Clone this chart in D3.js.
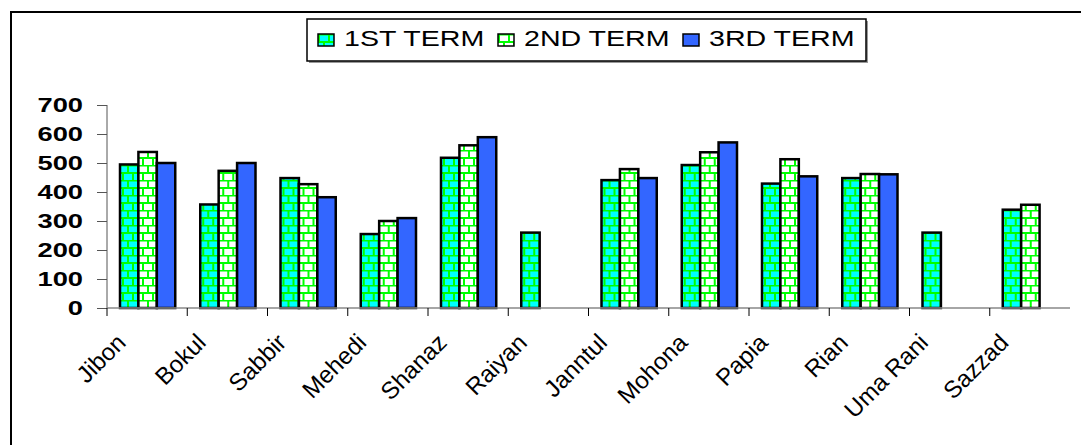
<!DOCTYPE html>
<html>
<head>
<meta charset="utf-8">
<script src="https://cdn.jsdelivr.net/npm/d3@7"></script>
<style>
  body { margin: 0; background: #fff; }
  svg { display: block; font-family: "Liberation Sans", Arial, sans-serif; }
</style>
</head>
<body>
<svg width="1081" height="445"></svg>
<script>
// marks per student (null = no bar)
var students = ["Jibon", "Bokul", "Sabbir", "Mehedi", "Shanaz", "Raiyan",
                "Janntul", "Mohona", "Papia", "Rian", "Uma Rani", "Sazzad"];
var term1 = [495, 357, 448, 255, 518, 260, 441, 493, 429, 448, 260, 339];
var term2 = [538, 473, 427, 300, 561, null, 479, 537, 513, 462, null, 356];
var term3 = [500, 500, 382, 310, 589, null, 448, 571, 454, 461, null, null];
var seriesNames = ["1ST TERM", "2ND TERM", "3RD TERM"];
var yTicks = [0, 100, 200, 300, 400, 500, 600, 700];

var svg = d3.select("svg"),
    margin = {top: 105, left: 107, right: 11, bottom: 137},
    width = +svg.attr("width") - margin.left - margin.right,
    height = +svg.attr("height") - margin.top - margin.bottom,
    stretch = 1.3; // text in the picture is drawn wide

// outer chart frame (only top/left edges show, rest is cropped)
svg.append("rect")
    .attr("x", 11).attr("y", 12)
    .attr("width", 1100).attr("height", 460)
    .attr("fill", "none")
    .attr("stroke", "#000")
    .attr("stroke-width", 2);

// brick patterns
var defs = svg.append("defs");
function brick(id, bg) {
  var p = defs.append("pattern")
      .attr("id", id)
      .attr("patternUnits", "userSpaceOnUse")
      .attr("width", 10).attr("height", 15);
  p.append("rect").attr("width", 10).attr("height", 15).attr("fill", bg);
  p.append("path")
      .attr("d", "M0,0.5H10M0,8H10M1,0V8M6,8V15")
      .attr("stroke", "#00ff00")
      .attr("stroke-width", 2)
      .attr("fill", "none");
}
brick("brick1", "#00ffff");
brick("brick2", "#ffffff");
var fills = ["url(#brick1)", "url(#brick2)", "#3366ff"];

var g = svg.append("g").attr("transform", "translate(" + margin.left + "," + margin.top + ")");

var x0 = d3.scaleBand().domain(students).range([0, width]);
var x1 = d3.scaleBand().domain([0, 1, 2]).range([13, x0.bandwidth() - 12]);
var y = d3.scaleLinear().domain([0, 700]).range([height, 0]);

var rows = students.map(function(s, i) {
  return {name: s, values: [term1[i], term2[i], term3[i]]};
});

// bars
var groups = g.selectAll(".grp")
  .data(rows)
  .enter().append("g")
    .attr("transform", function(d) { return "translate(" + x0(d.name) + ",0)"; });

groups.selectAll("rect")
  .data(function(d) {
    return d.values.map(function(v, k) { return {k: k, v: v}; })
      .filter(function(e) { return e.v != null; });
  })
  .enter().append("rect")
    .attr("x", function(d) { return x1(d.k); })
    .attr("y", function(d) { return y(d.v); })
    .attr("width", x1.bandwidth())
    .attr("height", function(d) { return height - y(d.v); })
    .attr("fill", function(d) { return fills[d.k]; })
    .attr("stroke", "#000")
    .attr("stroke-width", 2.5);

// y axis
var yAxis = g.append("g")
    .call(d3.axisLeft(y).tickValues(yTicks).tickSize(10));
yAxis.select(".domain").attr("stroke", "#555").attr("d", "M0," + height + "V0");
yAxis.selectAll(".tick line").attr("stroke", "#555");
yAxis.selectAll("text")
    .attr("x", -24 / stretch)
    .attr("transform", "scale(" + stretch + ",1)")
    .attr("fill", "#000")
    .style("font-size", "21px")
    .style("font-weight", "bold");

// x axis: ticks at band boundaries
var xa = g.append("g").attr("transform", "translate(0," + height + ")");
xa.append("line")
    .attr("x1", 0).attr("x2", width)
    .attr("stroke", "#888").attr("stroke-width", 1.5);
xa.selectAll(".xt")
  .data(students)
  .enter().append("line")
    .attr("x1", function(d) { return x0(d); })
    .attr("x2", function(d) { return x0(d); })
    .attr("y1", 0).attr("y2", 8)
    .attr("stroke", "#000");

xa.selectAll(".xl")
  .data(students)
  .enter().append("text")
    .attr("transform", function(d) {
      return "translate(" + (x0(d) + x0.bandwidth() / 2 - 20) + ",36) rotate(-45)";
    })
    .attr("text-anchor", "end")
    .style("font-size", "24px")
    .attr("fill", "#000")
    .text(function(d) { return d; });

// legend
var lg = svg.append("g").attr("transform", "translate(307,19)");
lg.append("rect")
    .attr("x", 2).attr("y", 2).attr("width", 559).attr("height", 42)
    .attr("fill", "#999");
lg.append("rect")
    .attr("width", 559).attr("height", 42)
    .attr("fill", "#fff")
    .attr("stroke", "#000")
    .attr("stroke-width", 1.5);

var lx = [11, 191, 376];
var items = lg.selectAll(".item")
  .data(seriesNames)
  .enter().append("g")
    .attr("transform", function(d, i) { return "translate(" + lx[i] + ",0)"; });
items.append("rect")
    .attr("y", 15).attr("width", 16).attr("height", 12)
    .attr("fill", function(d, i) { return fills[i]; })
    .attr("stroke", "#000")
    .attr("stroke-width", 1.5);
items.append("text")
    .attr("x", 26 / stretch).attr("y", 27)
    .attr("transform", "scale(" + stretch + ",1)")
    .style("font-size", "22px")
    .attr("fill", "#000")
    .text(function(d) { return d; });
</script>
</body>
</html>
